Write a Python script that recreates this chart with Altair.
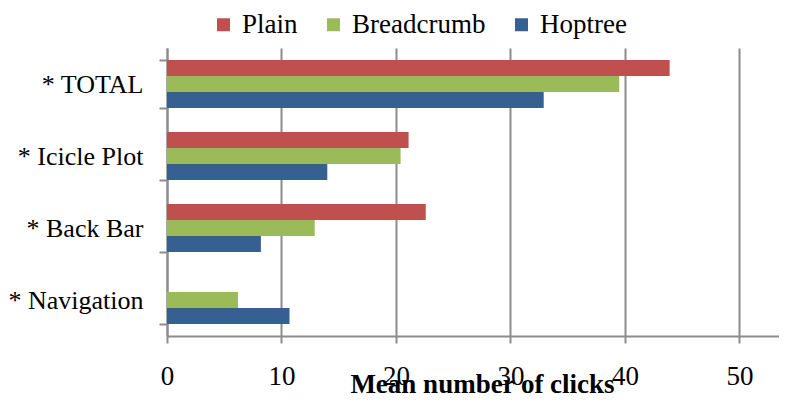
import altair as alt
import pandas as pd

categories = ["* TOTAL", "* Icicle Plot", "* Back Bar", "* Navigation"]
series = ["Plain", "Breadcrumb", "Hoptree"]
plain = [43.9, 21.1, 22.6, None]
breadcrumb = [39.5, 20.4, 12.9, 6.2]
hoptree = [32.9, 14.0, 8.2, 10.7]
colors = ["#C0504D", "#9BBB59", "#376092"]
x_ticks = [0, 10, 20, 30, 40, 50]

rows = []
for i, c in enumerate(categories):
    for s, vals in zip(series, [plain, breadcrumb, hoptree]):
        if vals[i] is not None:
            rows.append({"category": c, "series": s, "value": vals[i]})
df = pd.DataFrame(rows)

FONT = "Liberation Serif"
FS = 27
GRID = "#8c8c8c"

chart = alt.Chart(df).mark_bar(size=16).encode(
    y=alt.Y("category:N", sort=categories,
            scale=alt.Scale(paddingInner=1/3, paddingOuter=1/6),
            axis=alt.Axis(title=None, tickBand="extent", tickSize=8,
                          labelFontSize=26, labelFont=FONT, labelColor="black",
                          labelPadding=16, domainColor=GRID, tickColor=GRID,
                          domainWidth=2, tickWidth=2, grid=False)),
    yOffset=alt.YOffset("series:N", sort=series),
    x=alt.X("value:Q",
            scale=alt.Scale(domain=[0, 53.45], nice=False, zero=True),
            axis=alt.Axis(values=x_ticks, title="Mean number of clicks",
                          titleFont=FONT, titleFontSize=FS, titleFontWeight="bold",
                          titleColor="black", titleAlign="center",
                          titleBaseline="alphabetic", titleX=315, titleY=56,
                          labelFontSize=FS, labelFont=FONT, labelColor="black",
                          labelFlush=False,
                          labelPadding=20, tickSize=7, tickColor=GRID, tickWidth=2,
                          domainColor=GRID, domainWidth=2,
                          grid=True, gridColor=GRID, gridWidth=2)),
    color=alt.Color("series:N", sort=series,
                    scale=alt.Scale(domain=series, range=colors),
                    legend=alt.Legend(title=None, orient="none", legendX=43, legendY=-37,
                                      direction="horizontal", symbolType="square",
                                      symbolSize=169, symbolStrokeWidth=0,
                                      labelFont=FONT, labelFontSize=FS,
                                      labelColor="black", columnPadding=22,
                                      labelOffset=5, symbolOpacity=1)),
).properties(
    width=612, height=288,
    autosize=alt.AutoSizeParams(type="none"),
    padding={"left": 159, "top": 40, "right": 0, "bottom": 62},
).configure_view(stroke=None)

chart.save("out.html", embed_options={"renderer": "svg", "actions": False})
